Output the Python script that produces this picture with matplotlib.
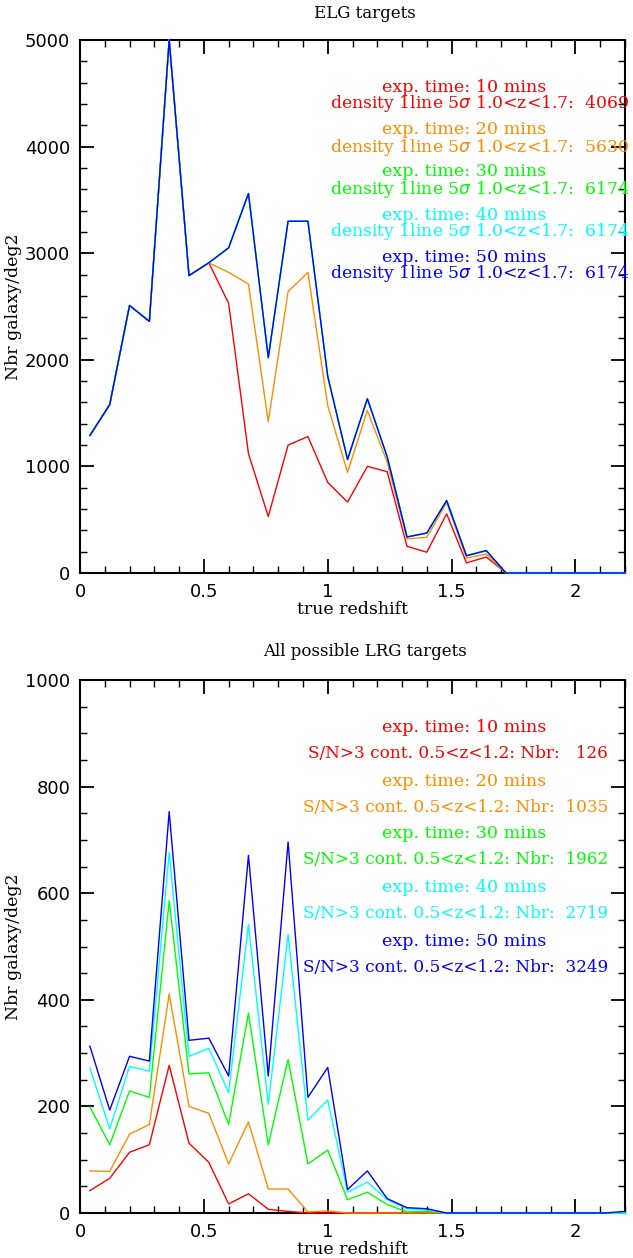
import numpy as np
import matplotlib.pyplot as plt
from matplotlib.ticker import MultipleLocator

# redshift bin centres
z = [0.04, 0.12, 0.20, 0.28, 0.36, 0.44, 0.52, 0.60, 0.68, 0.76, 0.84, 0.92, 1.00, 1.08,
     1.16, 1.24, 1.32, 1.40, 1.48, 1.56, 1.64, 1.72, 1.80, 1.88, 1.96, 2.04, 2.12, 2.20]

exp_times = [10, 20, 30, 40, 50]
colors = ['#ff0000', '#ff8c00', '#00ff00', '#00ffff', '#0000ff']

# ELG counts per deg2
elg_10 = [1290, 1580, 2510, 2360, 5000, 2790, 2910, 2530, 1120, 530, 1200, 1280, 850, 665,
          1000, 950, 250, 195, 555, 95, 150, 0, 0, 0, 0, 0, 0, 0]
elg_20 = [1290, 1580, 2510, 2360, 5000, 2790, 2910, 2820, 2710, 1420, 2640, 2820, 1570, 945,
          1525, 1040, 320, 335, 660, 140, 178, 0, 0, 0, 0, 0, 0, 0]
elg_30 = [1290, 1580, 2510, 2360, 5000, 2790, 2910, 3050, 3560, 2020, 3300, 3300, 1845, 1065,
          1635, 1090, 338, 375, 680, 162, 210, 0, 0, 0, 0, 0, 0, 0]
elg_40 = list(elg_30)
elg_50 = list(elg_30)
elg_density = [4069, 5630, 6174, 6174, 6174]

# LRG counts per deg2
lrg_10 = [42, 65, 114, 128, 277, 131, 95, 17, 36, 7, 3, 0, 0, 0,
          0, 0, 0, 0, 0, 0, 0, 0, 0, 0, 0, 0, 0, 0]
lrg_20 = [79, 78, 148, 166, 411, 200, 187, 92, 171, 45, 45, 2, 4, 0,
          0, 0, 0, 0, 0, 0, 0, 0, 0, 0, 0, 0, 0, 0]
lrg_30 = [199, 128, 229, 217, 586, 261, 263, 166, 375, 128, 288, 92, 118, 25,
          39, 16, 2, 3, 0, 0, 0, 0, 0, 0, 0, 0, 0, 0]
lrg_40 = [272, 158, 275, 266, 676, 294, 309, 226, 541, 204, 522, 174, 212, 39,
          58, 25, 8, 6, 0, 0, 0, 0, 0, 0, 0, 0, 0, 0]
lrg_50 = [313, 193, 294, 285, 753, 324, 328, 257, 671, 257, 696, 217, 273, 44,
          79, 27, 10, 8, 0, 0, 0, 0, 0, 0, 0, 0, 0, 3]
lrg_nbr = [126, 1035, 1962, 2719, 3249]

W, H = 633, 1258
fig = plt.figure(figsize=(W / 100, H / 100), dpi=100)
serif = 'DejaVu Serif'


def px_ax(ax_box, x, y):
    # figure pixel -> axes fraction
    x0, y0, x1, y1 = ax_box
    return (x - x0) / (x1 - x0), (y1 - y) / (y1 - y0)


def setup_axes(ax, ymax, ymajor, yminor):
    ax.set_xlim(0, 2.2)
    ax.set_ylim(0, ymax)
    ax.xaxis.set_major_locator(MultipleLocator(0.5))
    ax.xaxis.set_minor_locator(MultipleLocator(0.1))
    ax.yaxis.set_major_locator(MultipleLocator(ymajor))
    ax.yaxis.set_minor_locator(MultipleLocator(yminor))
    ax.tick_params(which='both', direction='in', top=True, right=True)
    ax.tick_params(which='major', length=10, width=1.3, labelsize=13, pad=7)
    ax.tick_params(which='minor', length=5, width=1.0)
    ax.xaxis.set_major_formatter(plt.FuncFormatter(lambda v, p: '%g' % v))
    for s in ax.spines.values():
        s.set_linewidth(1.5)
    ax.set_xlabel('true redshift', family=serif, fontsize=12.5, labelpad=0)
    ax.set_ylabel('Nbr galaxy/deg2', family=serif, fontsize=12.5)
    ax.yaxis.set_label_coords((22 - 80) / 545, 0.5)


# top panel: ELG
box1 = (80, 40, 625, 573)
ax1 = fig.add_axes([80 / W, 1 - 573 / H, 545 / W, 533 / H])
for ys, c in zip([elg_10, elg_20, elg_30, elg_40, elg_50], colors):
    ax1.plot(z, ys, color=c, lw=1.0, zorder=3, clip_on=False)
setup_axes(ax1, 5000, 1000, 200)
fig.text(365 / W, 1 - 13 / H, 'ELG targets', family=serif, fontsize=12, ha='center', va='center')

exp_y1 = [87, 130, 172, 215, 257]
for t, d, c, yy in zip(exp_times, elg_density, colors, exp_y1):
    ax1.text(*px_ax(box1, 464, yy), 'exp. time: %d mins' % t, transform=ax1.transAxes,
             color=c, family=serif, fontsize=12.6, ha='center', va='center')
    ax1.text(*px_ax(box1, 330, yy + 17), 'density 1line 5$\\sigma$ 1.0<z<1.7:  %d' % d,
             transform=ax1.transAxes, color=c, family=serif, fontsize=12.4,
             ha='left', va='center', clip_on=False)

# bottom panel: LRG
box2 = (80, 680, 625, 1213)
ax2 = fig.add_axes([80 / W, 1 - 1213 / H, 545 / W, 533 / H])
for ys, c in zip([lrg_10, lrg_20, lrg_30, lrg_40, lrg_50], colors):
    ax2.plot(z, ys, color=c, lw=1.0, zorder=3, clip_on=False)
setup_axes(ax2, 1000, 200, 50)
fig.text(365 / W, 1 - 652 / H, 'All possible LRG targets', family=serif, fontsize=12,
         ha='center', va='center')

exp_y2 = [728, 781, 834, 888, 942]
for t, n, c, yy in zip(exp_times, lrg_nbr, colors, exp_y2):
    ax2.text(*px_ax(box2, 464, yy), 'exp. time: %d mins' % t, transform=ax2.transAxes,
             color=c, family=serif, fontsize=12.6, ha='center', va='center')
    ax2.text(*px_ax(box2, 608, yy + 26), 'S/N>3 cont. 0.5<z<1.2: Nbr: %5d' % n,
             transform=ax2.transAxes, color=c, family=serif, fontsize=12.2,
             ha='right', va='center')

fig.savefig('out.png', dpi=100)
